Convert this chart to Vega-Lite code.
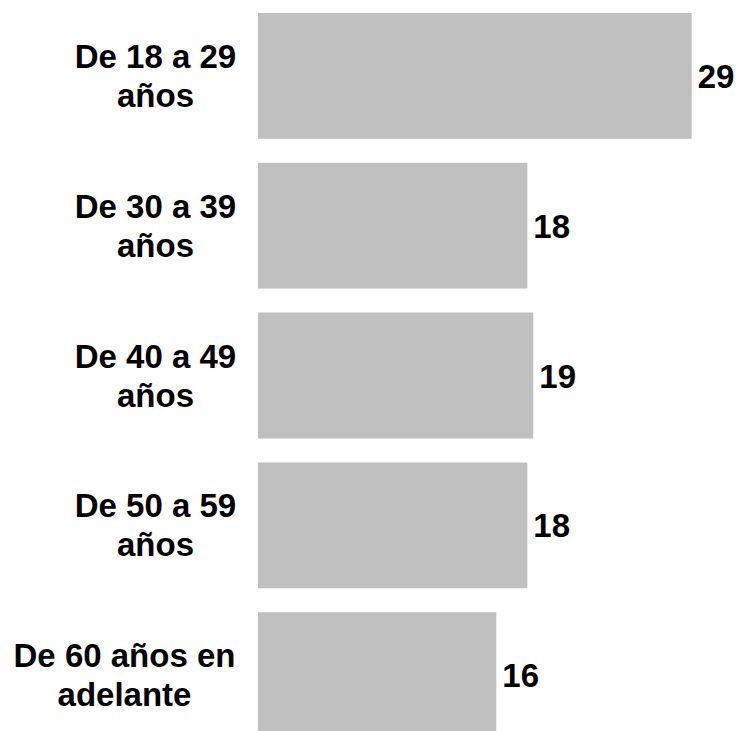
{
  "$schema": "https://vega.github.io/schema/vega-lite/v6.json",
  "autosize": {"type": "none"},
  "width": 444,
  "height": 730,
  "padding": {"left": 258, "top": 1, "right": 38, "bottom": 0},
  "background": "white",
  "config": {"view": {"stroke": null}, "font": "Liberation Sans"},
  "data": {
    "values": [
      {"grupo": "De 18 a 29 años", "valor": 29.3},
      {"grupo": "De 30 a 39 años", "valor": 18.2},
      {"grupo": "De 40 a 49 años", "valor": 18.6},
      {"grupo": "De 50 a 59 años", "valor": 18.2},
      {"grupo": "De 60 años en adelante", "valor": 16.1}
    ]
  },
  "encoding": {
    "y": {
      "field": "grupo",
      "type": "nominal",
      "sort": null,
      "scale": {"paddingInner": 0.16, "paddingOuter": 0.08, "range": [0, 749]},
      "axis": {
        "title": null,
        "domain": false,
        "ticks": false,
        "labelFont": "Liberation Sans",
        "labelFontWeight": "bold",
        "labelFontSize": 33,
        "labelColor": "black",
        "labelAlign": "center",
        "labelBaseline": "middle",
        "labelLineHeight": 39,
        "labelLimit": 0,
        "labelOffset": -18,
        "labelPadding": {"condition": {"test": "datum.value == 'De 60 años en adelante'", "value": 134}, "value": 103},
        "labelExpr": "datum.value == 'De 60 años en adelante' ? ['De 60 años en', 'adelante'] : [replace(datum.value, ' años', ''), 'años']"
      }
    },
    "x": {
      "field": "valor",
      "type": "quantitative",
      "scale": {"domain": [0, 30]},
      "axis": null
    }
  },
  "layer": [
    {"mark": {"type": "bar", "color": "#C0C0C0"}},
    {
      "mark": {"type": "text", "align": "left", "baseline": "middle", "dx": 6, "dy": 2, "font": "Liberation Sans", "fontWeight": "bold", "fontSize": 33, "color": "black"},
      "encoding": {"text": {"field": "valor", "type": "quantitative", "format": ".0f"}}
    }
  ]
}
